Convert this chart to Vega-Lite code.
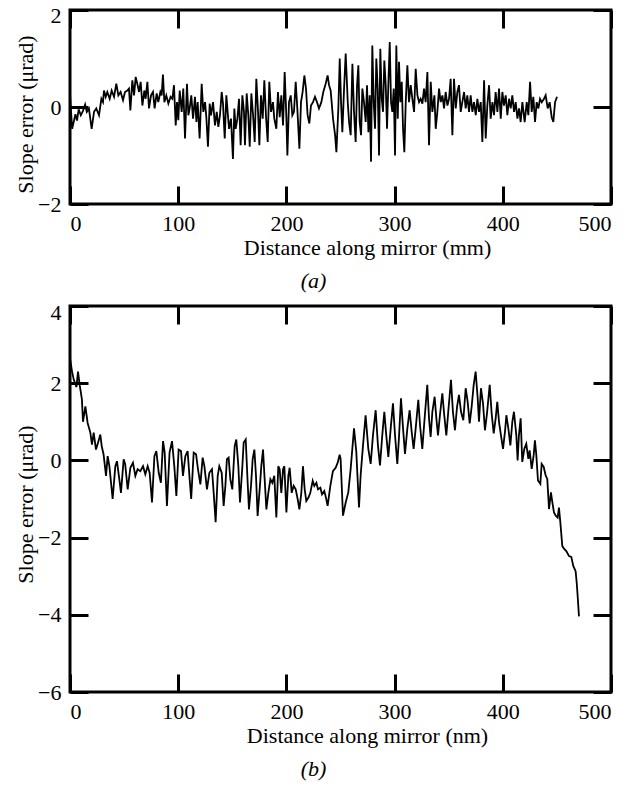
{
  "$schema": "https://vega.github.io/schema/vega-lite/v6.json",
  "background": "white",
  "padding": {"left": 13, "top": 2, "right": 5, "bottom": 0},
  "spacing": 5,
  "config": {
    "font": "Liberation Serif",
    "view": {"stroke": "black", "strokeWidth": 3},
    "axis": {"domain": false, "grid": false, "ticks": true, "tickColor": "black", "tickWidth": 3, "tickSize": -18, "labelFontSize": 22, "labelColor": "black", "titleFontSize": 22, "titleFontWeight": "normal", "titleColor": "black", "labelFont": "Liberation Serif", "titleFont": "Liberation Serif"},
    "title": {"fontSize": 22, "fontWeight": "normal", "fontStyle": "italic", "font": "Liberation Serif", "color": "black"}
  },
  "datasets": {
    "a": [
      {"x":0,"y":0.27},{"x":1,"y":-0.1},{"x":2,"y":-0.45},{"x":3.5,"y":-0.3},{"x":5,"y":-0.15},{"x":6.5,"y":-0.28},{"x":8,"y":-0.05},{"x":10,"y":-0.17},{"x":12,"y":-0.08},{"x":14,"y":0.05},{"x":15.5,"y":-0.1},{"x":17.5,"y":-0.03},{"x":20,"y":-0.45},{"x":22.2,"y":-0.1},{"x":24.3,"y":-0.03},{"x":26.8,"y":-0.17},{"x":29,"y":0.17},{"x":30.5,"y":0.1},{"x":31.4,"y":0.34},{"x":33,"y":0.21},{"x":34.5,"y":0.31},{"x":36.7,"y":0.17},{"x":38.5,"y":0.34},{"x":40.7,"y":0.21},{"x":42.8,"y":0.48},{"x":44.7,"y":0.24},{"x":46.8,"y":0.31},{"x":49,"y":0.14},{"x":50.8,"y":0.31},{"x":53,"y":0.34},{"x":54.5,"y":0.38},{"x":55.8,"y":-0.07},{"x":57.6,"y":0.55},{"x":59.2,"y":0.24},{"x":60.7,"y":0.62},{"x":62.5,"y":0.45},{"x":63.8,"y":0.31},{"x":65.3,"y":0.52},{"x":66.9,"y":0.03},{"x":68.7,"y":0.34},{"x":69.9,"y":0.17},{"x":71.5,"y":0.52},{"x":73,"y":-0.03},{"x":74.9,"y":0.24},{"x":76.7,"y":0.31},{"x":78.2,"y":-0.03},{"x":80.1,"y":0.28},{"x":81.6,"y":0.1},{"x":83.5,"y":0.31},{"x":84.7,"y":0.24},{"x":85.9,"y":0.67},{"x":87.2,"y":0.1},{"x":89,"y":0.24},{"x":90.9,"y":0.07},{"x":93,"y":0.21},{"x":94.6,"y":0.17},{"x":96.1,"y":0.45},{"x":97.7,"y":-0.38},{"x":98.9,"y":0.1},{"x":100.1,"y":-0.27},{"x":101.4,"y":0.34},{"x":103.2,"y":-0.1},{"x":104.7,"y":0.38},{"x":106.3,"y":-0.65},{"x":108.1,"y":0.48},{"x":109.4,"y":-0.17},{"x":110.6,"y":-0.03},{"x":112.1,"y":0.24},{"x":113.7,"y":-0.24},{"x":115.5,"y":0.21},{"x":116.8,"y":-0.31},{"x":118,"y":0.1},{"x":119.8,"y":-0.65},{"x":121.7,"y":0.48},{"x":123.2,"y":-0.1},{"x":124.8,"y":0.1},{"x":126,"y":-0.21},{"x":127.5,"y":-0.82},{"x":129.1,"y":0.07},{"x":130.3,"y":-0.17},{"x":132.2,"y":0.1},{"x":134,"y":-0.38},{"x":135.6,"y":-0.1},{"x":137.1,"y":-0.41},{"x":138.6,"y":-0.17},{"x":140.2,"y":0.31},{"x":141.4,"y":0.07},{"x":143,"y":-0.65},{"x":144.5,"y":0.24},{"x":145.7,"y":-0.1},{"x":147,"y":-0.45},{"x":148.8,"y":-0.24},{"x":150.6,"y":-1.07},{"x":151.9,"y":-0.03},{"x":153.1,"y":-0.45},{"x":154.7,"y":-0.24},{"x":156.2,"y":0.17},{"x":157.7,"y":-0.79},{"x":159.3,"y":0.24},{"x":160.8,"y":-0.1},{"x":161.7,"y":-0.79},{"x":163.3,"y":0.28},{"x":164.8,"y":-0.17},{"x":166.1,"y":-0.82},{"x":167.6,"y":0.28},{"x":169.1,"y":-0.14},{"x":170.7,"y":-0.72},{"x":172.2,"y":0.58},{"x":173.8,"y":-0.1},{"x":175,"y":-0.79},{"x":176.5,"y":0.24},{"x":178.1,"y":-0.24},{"x":179.6,"y":0.55},{"x":181.2,"y":-0.21},{"x":182.7,"y":-0.72},{"x":184.2,"y":0.52},{"x":185.8,"y":-0.1},{"x":187.6,"y":0.1},{"x":188.8,"y":-0.24},{"x":190.7,"y":-0.45},{"x":192.2,"y":0.31},{"x":193.8,"y":-0.21},{"x":195.3,"y":0.24},{"x":196.9,"y":-0.38},{"x":198.4,"y":0.72},{"x":199.9,"y":-0.17},{"x":200.9,"y":-1.0},{"x":202.4,"y":0.1},{"x":204,"y":0.24},{"x":205.5,"y":-0.17},{"x":207,"y":-0.1},{"x":208.6,"y":0.52},{"x":210.1,"y":-0.03},{"x":212,"y":-0.86},{"x":213.5,"y":0.1},{"x":215,"y":0.31},{"x":216.6,"y":0.65},{"x":218.1,"y":0.38},{"x":219.6,"y":-0.17},{"x":221.2,"y":-0.34},{"x":222.7,"y":0.03},{"x":224.6,"y":0.1},{"x":226.4,"y":0.21},{"x":228.3,"y":0.1},{"x":230.1,"y":-0.03},{"x":232.3,"y":0.1},{"x":234.1,"y":0.31},{"x":236.3,"y":0.48},{"x":238.1,"y":0.65},{"x":239.4,"y":0.45},{"x":240.9,"y":0.34},{"x":243.1,"y":-0.24},{"x":245,"y":-0.58},{"x":246.2,"y":-0.93},{"x":248,"y":-0.03},{"x":249.3,"y":1.0},{"x":250.5,"y":0.1},{"x":251.7,"y":-0.52},{"x":253.3,"y":0.38},{"x":254.8,"y":1.1},{"x":256.7,"y":0.1},{"x":257.9,"y":-0.31},{"x":259.4,"y":-0.58},{"x":261,"y":0.89},{"x":262.5,"y":-0.1},{"x":264,"y":-0.72},{"x":265.3,"y":0.45},{"x":266.5,"y":0.86},{"x":267.7,"y":-0.31},{"x":269,"y":-0.58},{"x":270.2,"y":0.38},{"x":271.7,"y":0.1},{"x":273.3,"y":-0.31},{"x":274.5,"y":0.45},{"x":275.8,"y":-0.52},{"x":277,"y":0.24},{"x":278.2,"y":-1.13},{"x":279.4,"y":1.27},{"x":280.7,"y":0.1},{"x":281.9,"y":-0.45},{"x":283.1,"y":1.0},{"x":284.4,"y":0.38},{"x":285.6,"y":-1.0},{"x":286.8,"y":1.2},{"x":288.1,"y":0.17},{"x":289.3,"y":-0.1},{"x":290.5,"y":0.96},{"x":291.8,"y":0.45},{"x":293,"y":-0.45},{"x":294.2,"y":0.45},{"x":295.5,"y":1.34},{"x":296.7,"y":0.1},{"x":297.9,"y":-0.1},{"x":299.2,"y":0.38},{"x":300.4,"y":-1.0},{"x":301.6,"y":1.27},{"x":302.9,"y":-0.24},{"x":304.1,"y":0.93},{"x":305.3,"y":0.1},{"x":306.6,"y":0.52},{"x":307.8,"y":-0.45},{"x":309,"y":-0.93},{"x":310.3,"y":0.1},{"x":311.8,"y":0.86},{"x":313.3,"y":0.1},{"x":314.9,"y":0.45},{"x":316.4,"y":0.17},{"x":318,"y":-0.1},{"x":319.5,"y":0.79},{"x":321.1,"y":0.24},{"x":322.6,"y":0.1},{"x":324.1,"y":0.17},{"x":325.7,"y":0.07},{"x":327.2,"y":0.38},{"x":328.7,"y":0.1},{"x":330.3,"y":0.72},{"x":331.8,"y":-0.79},{"x":333.4,"y":0.52},{"x":334.9,"y":-0.1},{"x":336.8,"y":0.24},{"x":338,"y":-0.45},{"x":339.5,"y":-0.1},{"x":341.1,"y":0.38},{"x":342.6,"y":0.1},{"x":344.2,"y":0.24},{"x":345.7,"y":-0.03},{"x":347.2,"y":0.31},{"x":348.8,"y":0.03},{"x":350.3,"y":0.17},{"x":351.8,"y":0.58},{"x":353.4,"y":-0.58},{"x":354.9,"y":0.58},{"x":356.5,"y":-0.03},{"x":358,"y":0.31},{"x":359.5,"y":0.45},{"x":361.1,"y":-0.1},{"x":362.6,"y":0.1},{"x":364.2,"y":0.31},{"x":365.7,"y":-0.03},{"x":367.2,"y":0.24},{"x":368.8,"y":-0.1},{"x":370.3,"y":0.24},{"x":371.9,"y":-0.1},{"x":373.4,"y":0.1},{"x":375,"y":-0.17},{"x":376.5,"y":0.17},{"x":378,"y":-0.1},{"x":379.6,"y":0.1},{"x":381.1,"y":-0.72},{"x":382.7,"y":0.55},{"x":384.2,"y":-0.65},{"x":385.7,"y":0.03},{"x":387.3,"y":0.45},{"x":388.8,"y":-0.24},{"x":390.4,"y":0.1},{"x":391.9,"y":-0.17},{"x":393.4,"y":0.31},{"x":395,"y":-0.1},{"x":396.5,"y":0.38},{"x":398.1,"y":-0.24},{"x":399.6,"y":0.31},{"x":401.1,"y":0.03},{"x":402.7,"y":0.24},{"x":404.2,"y":-0.17},{"x":405.8,"y":0.17},{"x":407.3,"y":-0.03},{"x":408.8,"y":0.24},{"x":410.4,"y":-0.1},{"x":411.9,"y":0.1},{"x":413.5,"y":-0.24},{"x":415,"y":-0.03},{"x":416.5,"y":-0.31},{"x":418.1,"y":0.1},{"x":420.2,"y":-0.31},{"x":422.1,"y":0.1},{"x":423.6,"y":-0.17},{"x":425.2,"y":0.52},{"x":426.7,"y":-0.1},{"x":428.2,"y":0.21},{"x":429.8,"y":-0.31},{"x":431.3,"y":0.1},{"x":432.9,"y":-0.03},{"x":434.4,"y":0.17},{"x":436,"y":0.1},{"x":438.1,"y":0.17},{"x":439.6,"y":0.24},{"x":441.5,"y":-0.03},{"x":443.3,"y":0.1},{"x":445.2,"y":-0.21},{"x":446.7,"y":-0.31},{"x":448.3,"y":0.1},{"x":450.1,"y":0.21}
    ],
    "b": [
      {"x":0,"y":2.65},{"x":1.9,"y":2.3},{"x":3.4,"y":2.1},{"x":5.9,"y":1.9},{"x":7.4,"y":2.3},{"x":9,"y":1.95},{"x":11,"y":1.58},{"x":12,"y":1.0},{"x":14.2,"y":1.4},{"x":16.3,"y":0.97},{"x":18.8,"y":0.72},{"x":20.3,"y":0.41},{"x":21.9,"y":0.72},{"x":24,"y":0.28},{"x":25.9,"y":0.46},{"x":28,"y":0.67},{"x":29.3,"y":0.37},{"x":31,"y":0.16},{"x":33.3,"y":-0.4},{"x":34.8,"y":0.11},{"x":36.4,"y":-0.15},{"x":37.3,"y":-0.4},{"x":39.4,"y":-1.0},{"x":41.9,"y":-0.15},{"x":43.4,"y":-0.02},{"x":45.6,"y":-0.49},{"x":47.1,"y":-0.84},{"x":49.6,"y":0.03},{"x":51,"y":-0.1},{"x":53.3,"y":-0.75},{"x":55.8,"y":-0.19},{"x":58.2,"y":-0.06},{"x":60.4,"y":-0.4},{"x":62.5,"y":-0.23},{"x":65,"y":-0.28},{"x":67.5,"y":-0.15},{"x":69.6,"y":-0.36},{"x":71.8,"y":-0.15},{"x":73.6,"y":-0.32},{"x":75.8,"y":-1.09},{"x":78,"y":0.11},{"x":79.8,"y":0.24},{"x":82,"y":-0.32},{"x":84,"y":-0.58},{"x":86,"y":0.5},{"x":87.5,"y":0.2},{"x":89.6,"y":-1.18},{"x":92,"y":0.2},{"x":94.3,"y":0.5},{"x":96.4,"y":-0.15},{"x":98.3,"y":-0.92},{"x":100.4,"y":0.28},{"x":102.6,"y":0.24},{"x":104.4,"y":-0.4},{"x":106.6,"y":0.11},{"x":108.7,"y":0.24},{"x":110.6,"y":-0.49},{"x":112,"y":-1.0},{"x":114.3,"y":0.2},{"x":116.5,"y":0.16},{"x":118.3,"y":-0.23},{"x":120.5,"y":-0.62},{"x":122.6,"y":0.07},{"x":124.2,"y":-0.15},{"x":126.6,"y":-0.75},{"x":128.8,"y":-0.32},{"x":131.2,"y":-0.23},{"x":132.8,"y":-0.84},{"x":134.6,"y":-1.6},{"x":136.5,"y":-0.4},{"x":138,"y":-0.15},{"x":140.2,"y":-0.32},{"x":142,"y":-1.18},{"x":143.6,"y":-0.66},{"x":145,"y":0.03},{"x":146.6,"y":0.07},{"x":148.2,"y":-0.49},{"x":150,"y":-0.75},{"x":152.2,"y":0.37},{"x":153.7,"y":0.54},{"x":155.6,"y":-0.15},{"x":157.1,"y":-1.09},{"x":159.3,"y":-0.15},{"x":160.5,"y":0.46},{"x":162.4,"y":0.54},{"x":164.2,"y":-0.58},{"x":165.4,"y":-1.27},{"x":167.3,"y":-0.66},{"x":168.8,"y":0.03},{"x":170.4,"y":0.28},{"x":171.9,"y":-0.4},{"x":173.4,"y":-1.44},{"x":175.3,"y":-0.75},{"x":176.8,"y":-0.15},{"x":178.4,"y":0.28},{"x":179.9,"y":-0.49},{"x":181.5,"y":-1.27},{"x":183.3,"y":-0.84},{"x":185.2,"y":-0.49},{"x":187,"y":-0.58},{"x":188.8,"y":-0.4},{"x":190.7,"y":-1.48},{"x":192.5,"y":-0.15},{"x":193.8,"y":-0.23},{"x":195.3,"y":-0.84},{"x":196.9,"y":-0.23},{"x":198.1,"y":-0.15},{"x":200,"y":-1.35},{"x":201.8,"y":-0.4},{"x":203,"y":-0.19},{"x":204.9,"y":-0.84},{"x":206.7,"y":-0.66},{"x":208.6,"y":-0.75},{"x":210.4,"y":-1.0},{"x":212,"y":-1.27},{"x":213.8,"y":-0.84},{"x":215.3,"y":-0.15},{"x":216.9,"y":-0.75},{"x":218.4,"y":-1.05},{"x":220.3,"y":-0.97},{"x":222.1,"y":-0.84},{"x":224.3,"y":-0.53},{"x":225.8,"y":-0.66},{"x":227.7,"y":-0.58},{"x":229.2,"y":-0.75},{"x":231.4,"y":-0.71},{"x":232.9,"y":-0.88},{"x":235,"y":-0.79},{"x":236.6,"y":-0.97},{"x":238.1,"y":-1.18},{"x":240.6,"y":-0.66},{"x":243,"y":-0.28},{"x":245.5,"y":-0.19},{"x":247.4,"y":-0.06},{"x":249.2,"y":0.15},{"x":250.1,"y":0.04},{"x":252.3,"y":-1.43},{"x":254.8,"y":-1.09},{"x":257.2,"y":-0.83},{"x":259.4,"y":-0.22},{"x":262.5,"y":0.83},{"x":264.6,"y":0.22},{"x":267.1,"y":-1.22},{"x":268.6,"y":-0.39},{"x":270.8,"y":0.39},{"x":273.2,"y":1.17},{"x":275.7,"y":0.3},{"x":277.9,"y":-0.09},{"x":280,"y":0.65},{"x":282.5,"y":1.3},{"x":284.6,"y":0.39},{"x":286.5,"y":-0.13},{"x":288.6,"y":0.65},{"x":290.5,"y":1.26},{"x":292.3,"y":0.65},{"x":294.2,"y":0.09},{"x":296.4,"y":0.83},{"x":298.5,"y":1.48},{"x":300.4,"y":0.65},{"x":302.5,"y":-0.09},{"x":304,"y":0.57},{"x":305.9,"y":1.61},{"x":307.8,"y":0.83},{"x":309.6,"y":0.17},{"x":311.8,"y":0.83},{"x":313.9,"y":1.3},{"x":315.8,"y":0.74},{"x":317.6,"y":0.3},{"x":319.5,"y":0.83},{"x":321.9,"y":1.57},{"x":323.5,"y":0.91},{"x":325.6,"y":0.3},{"x":327.5,"y":1.0},{"x":330.2,"y":1.96},{"x":331.8,"y":1.09},{"x":333.3,"y":0.61},{"x":334.9,"y":1.26},{"x":337,"y":1.65},{"x":338.6,"y":1.09},{"x":340.1,"y":0.65},{"x":341.9,"y":1.17},{"x":344.1,"y":1.74},{"x":345.9,"y":1.17},{"x":347.8,"y":0.65},{"x":349.6,"y":1.26},{"x":352.1,"y":2.09},{"x":353.9,"y":1.26},{"x":355.8,"y":0.78},{"x":357.7,"y":1.39},{"x":359.5,"y":1.7},{"x":361.4,"y":1.26},{"x":363.5,"y":1.04},{"x":365.7,"y":1.87},{"x":367.5,"y":1.52},{"x":369.4,"y":0.96},{"x":371.2,"y":1.39},{"x":373.1,"y":1.96},{"x":374.9,"y":2.3},{"x":376.8,"y":1.61},{"x":378,"y":1.0},{"x":379.8,"y":1.87},{"x":381.7,"y":1.48},{"x":383.5,"y":0.78},{"x":385.4,"y":1.22},{"x":387.9,"y":1.96},{"x":389.7,"y":1.22},{"x":391.6,"y":0.7},{"x":393.4,"y":1.09},{"x":394.9,"y":1.52},{"x":396.5,"y":1.0},{"x":398.3,"y":0.65},{"x":400.2,"y":0.3},{"x":402,"y":0.74},{"x":403.3,"y":1.17},{"x":405.1,"y":0.83},{"x":407,"y":0.39},{"x":408.8,"y":1.0},{"x":410.3,"y":1.26},{"x":412.5,"y":0.65},{"x":413.7,"y":0},{"x":414.9,"y":0.65},{"x":416.5,"y":1.09},{"x":418,"y":-0.04},{"x":419.9,"y":0.3},{"x":421.7,"y":0.43},{"x":423.6,"y":0.04},{"x":424.8,"y":0.26},{"x":426.7,"y":-0.22},{"x":428.5,"y":0.13},{"x":429.7,"y":0.52},{"x":431,"y":0.13},{"x":432.5,"y":-0.52},{"x":434.7,"y":-0.61},{"x":435.9,"y":-0.09},{"x":437.8,"y":-0.17},{"x":439.6,"y":-0.39},{"x":441.1,"y":-0.48},{"x":442.7,"y":-1.26},{"x":444.5,"y":-0.83},{"x":445.8,"y":-1.09},{"x":447.3,"y":-1.35},{"x":448.9,"y":-1.43},{"x":450.7,"y":-1.48},{"x":451.9,"y":-1.22},{"x":453.2,"y":-1.61},{"x":455,"y":-2.22},{"x":456.9,"y":-2.3},{"x":458.7,"y":-2.35},{"x":461.2,"y":-2.48},{"x":463.3,"y":-2.5},{"x":465.2,"y":-2.74},{"x":467.3,"y":-2.87},{"x":468.3,"y":-3.17},{"x":469.2,"y":-3.52},{"x":470.4,"y":-4.04}
    ]
  },
  "vconcat": [
    {
      "width": 541,
      "height": 194,
      "title": {"text": "(a)", "orient": "bottom", "anchor": "middle", "frame": "bounds", "offset": 13},
      "data": {"name": "a"},
      "layer": [
        {
          "mark": {"type": "line", "color": "black", "strokeWidth": 1.8},
          "encoding": {
            "x": {"field": "x", "type": "quantitative", "scale": {"domain": [0, 500], "nice": false, "zero": false},
                  "axis": {"orient": "bottom", "values": [0, 100, 200, 300, 400, 500], "title": "Distance along mirror (mm)", "labelPadding": 27, "titlePadding": 3, "titleX": 297}},
            "y": {"field": "y", "type": "quantitative", "scale": {"domain": [-2, 2], "nice": false, "zero": false},
                  "axis": {"orient": "left", "values": [-2, 0, 2], "title": "Slope error (μrad)", "labelPadding": 27, "titlePadding": 0, "titleY": 104,
                           "labelOffset": {"condition": {"test": "datum.value == 2", "value": 5}, "value": 0}}}
          }
        },
        {
          "mark": {"type": "line", "strokeOpacity": 0},
          "encoding": {
            "x": {"field": "x", "type": "quantitative", "scale": {"domain": [0, 500], "nice": false, "zero": false},
                  "axis": {"orient": "top", "values": [0, 100, 200, 300, 400, 500], "labels": false, "title": null}},
            "y": {"field": "y", "type": "quantitative", "scale": {"domain": [-2, 2], "nice": false, "zero": false},
                  "axis": {"orient": "right", "values": [-2, 0, 2], "labels": false, "title": null}}
          }
        }
      ],
      "resolve": {"axis": {"x": "independent", "y": "independent"}}
    },
    {
      "width": 541,
      "height": 386,
      "title": {"text": "(b)", "orient": "bottom", "anchor": "middle", "frame": "bounds", "offset": 13},
      "data": {"name": "b"},
      "layer": [
        {
          "mark": {"type": "line", "color": "black", "strokeWidth": 1.8},
          "encoding": {
            "x": {"field": "x", "type": "quantitative", "scale": {"domain": [0, 500], "nice": false, "zero": false},
                  "axis": {"orient": "bottom", "values": [0, 100, 200, 300, 400, 500], "title": "Distance along mirror (nm)", "labelPadding": 27, "titlePadding": 3, "titleX": 297}},
            "y": {"field": "y", "type": "quantitative", "scale": {"domain": [-6, 4], "nice": false, "zero": false},
                  "axis": {"orient": "left", "values": [-6, -4, -2, 0, 2, 4], "title": "Slope error (μrad)", "labelPadding": 27, "titlePadding": 0, "titleY": 198,
                           "labelOffset": {"condition": {"test": "datum.value == 4", "value": 6}, "value": 0}}}
          }
        },
        {
          "mark": {"type": "line", "strokeOpacity": 0},
          "encoding": {
            "x": {"field": "x", "type": "quantitative", "scale": {"domain": [0, 500], "nice": false, "zero": false},
                  "axis": {"orient": "top", "values": [0, 100, 200, 300, 400, 500], "labels": false, "title": null}},
            "y": {"field": "y", "type": "quantitative", "scale": {"domain": [-6, 4], "nice": false, "zero": false},
                  "axis": {"orient": "right", "values": [-6, -4, -2, 0, 2, 4], "labels": false, "title": null}}
          }
        }
      ],
      "resolve": {"axis": {"x": "independent", "y": "independent"}}
    }
  ]
}
